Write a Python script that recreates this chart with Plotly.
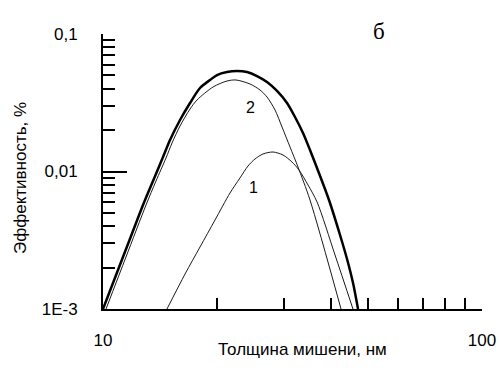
import plotly.graph_objects as go

# Thick curve (total)
x_total = [10.0, 10.626, 11.291, 11.998, 12.752, 13.551, 14.40, 15.026, 15.967, 16.967, 18.03, 19.159, 19.991,
           21.241, 22.572, 23.988, 25.49, 27.087, 28.783, 30.585, 32.106, 33.705, 35.171, 36.701, 38.528,
           39.716, 42.209, 44.043, 45.677, 47.086]
y_total = [0.001, 0.001545, 0.002389, 0.003692, 0.005706, 0.00853, 0.012749, 0.016948, 0.023686, 0.031492,
           0.04049, 0.046294, 0.050315, 0.052915, 0.053813, 0.052915, 0.049482, 0.044759, 0.038504, 0.031492,
           0.024905, 0.019055, 0.01433, 0.010603, 0.00746, 0.005902, 0.003453, 0.00231, 0.001545, 0.001]

# Curve 2
x_c2 = [10.184, 11.499, 12.986, 13.8, 14.664, 15.21, 15.967, 16.967, 17.704, 19.511, 21.241, 22.435, 24.428,
        25.958, 27.087, 28.436, 29.673, 31.15, 32.696, 35.171, 42.466]
y_c2 = [0.001, 0.002389, 0.005706, 0.00853, 0.012536, 0.016117, 0.021423, 0.02848, 0.033113, 0.041169, 0.045517,
        0.046294, 0.043288, 0.03915, 0.034812, 0.028012, 0.021073, 0.015074, 0.010782, 0.006204, 0.001]

# Curve 1
x_c1 = [14.75, 16.46, 18.03, 19.75, 21.63, 22.98, 24.13, 25.18, 26.43, 28.09, 29.85, 31.52, 32.89, 34.75,
        36.71, 40.95, 45.66]
y_c1 = [0.001, 0.001796, 0.002825, 0.004439, 0.006977, 0.008969, 0.01096, 0.01233, 0.01341, 0.01386, 0.01318,
        0.01173, 0.01026, 0.00798, 0.006002, 0.00247, 0.001]

y_tickvals = [0.001, 0.01, 0.1]
y_ticktext = ["1E-3", "0,01", "0,1"]
x_tickvals = [10, 100]
x_ticktext = ["10", "100"]
y_minor = [k * 10.0 ** e for e in (-3, -2) for k in range(2, 10)]
x_minor = [k * 10.0 for k in range(2, 10)]

FONT = "Liberation Sans, Arial, sans-serif"

fig = go.Figure()
thin = dict(color="#1a1a1a", width=1, shape="spline", smoothing=0.8)
fig.add_trace(go.Scatter(x=x_c2, y=y_c2, mode="lines", line=thin, showlegend=False))
fig.add_trace(go.Scatter(x=x_c1, y=y_c1, mode="lines", line=thin, showlegend=False))
fig.add_trace(go.Scatter(x=x_total, y=y_total, mode="lines",
                         line=dict(color="black", width=2.5, shape="spline", smoothing=0.8), showlegend=False))

fig.update_xaxes(
    type="log", range=[1, 2], showgrid=False, zeroline=False, automargin=False,
    showline=True, linecolor="black", linewidth=2,
    ticks="inside", ticklen=23, tickwidth=2, tickcolor="black",
    tickmode="array", tickvals=x_tickvals, ticktext=x_ticktext,
    ticklabelstandoff=15,
    tickfont=dict(family=FONT, size=17, color="black"),
    minor=dict(tickmode="array", tickvals=x_minor, ticks="inside", ticklen=11, tickwidth=2,
               tickcolor="black", showgrid=False),
)
fig.update_yaxes(
    type="log", range=[-3, -1], showgrid=False, zeroline=False, automargin=False,
    showline=True, linecolor="black", linewidth=2,
    ticks="inside", ticklen=24, tickwidth=2, tickcolor="black",
    tickmode="array", tickvals=y_tickvals, ticktext=y_ticktext,
    ticklabelstandoff=20,
    tickfont=dict(family=FONT, size=17, color="black"),
    minor=dict(tickmode="array", tickvals=y_minor, ticks="inside", ticklen=12, tickwidth=2,
               tickcolor="black", showgrid=False),
)

fig.update_layout(
    width=499, height=385,
    margin=dict(l=103, r=17, t=34, b=76),
    paper_bgcolor="white", plot_bgcolor="white",
    annotations=[
        dict(text="Толщина мишени, нм", xref="paper", yref="paper", x=(302 - 103) / 379, y=-(349 - 309) / 275,
             xanchor="center", yanchor="middle", showarrow=False, font=dict(family=FONT, size=17, color="black")),
        dict(text="Эффективность, %", xref="paper", yref="paper", x=(20 - 103) / 379, y=(309 - 178) / 275,
             xanchor="center", yanchor="middle", textangle=-90, showarrow=False,
             font=dict(family=FONT, size=17, color="black")),
        dict(text="б", xref="paper", yref="paper", x=(379 - 103) / 379, y=(309 - 32) / 275,
             xanchor="center", yanchor="middle", showarrow=False,
             font=dict(family="Liberation Serif, Times New Roman, serif", size=23, color="black")),
        dict(text="2", xref="paper", yref="paper", x=(250 - 103) / 379, y=(309 - 107) / 275,
             xanchor="center", yanchor="middle", showarrow=False, font=dict(family=FONT, size=16, color="black")),
        dict(text="1", xref="paper", yref="paper", x=(253 - 103) / 379, y=(309 - 187) / 275,
             xanchor="center", yanchor="middle", showarrow=False, font=dict(family=FONT, size=16, color="black")),
    ],
)

fig.write_html("out.html", config={"displayModeBar": False},
               post_script="document.body.style.margin='0';document.body.style.padding='0';")
